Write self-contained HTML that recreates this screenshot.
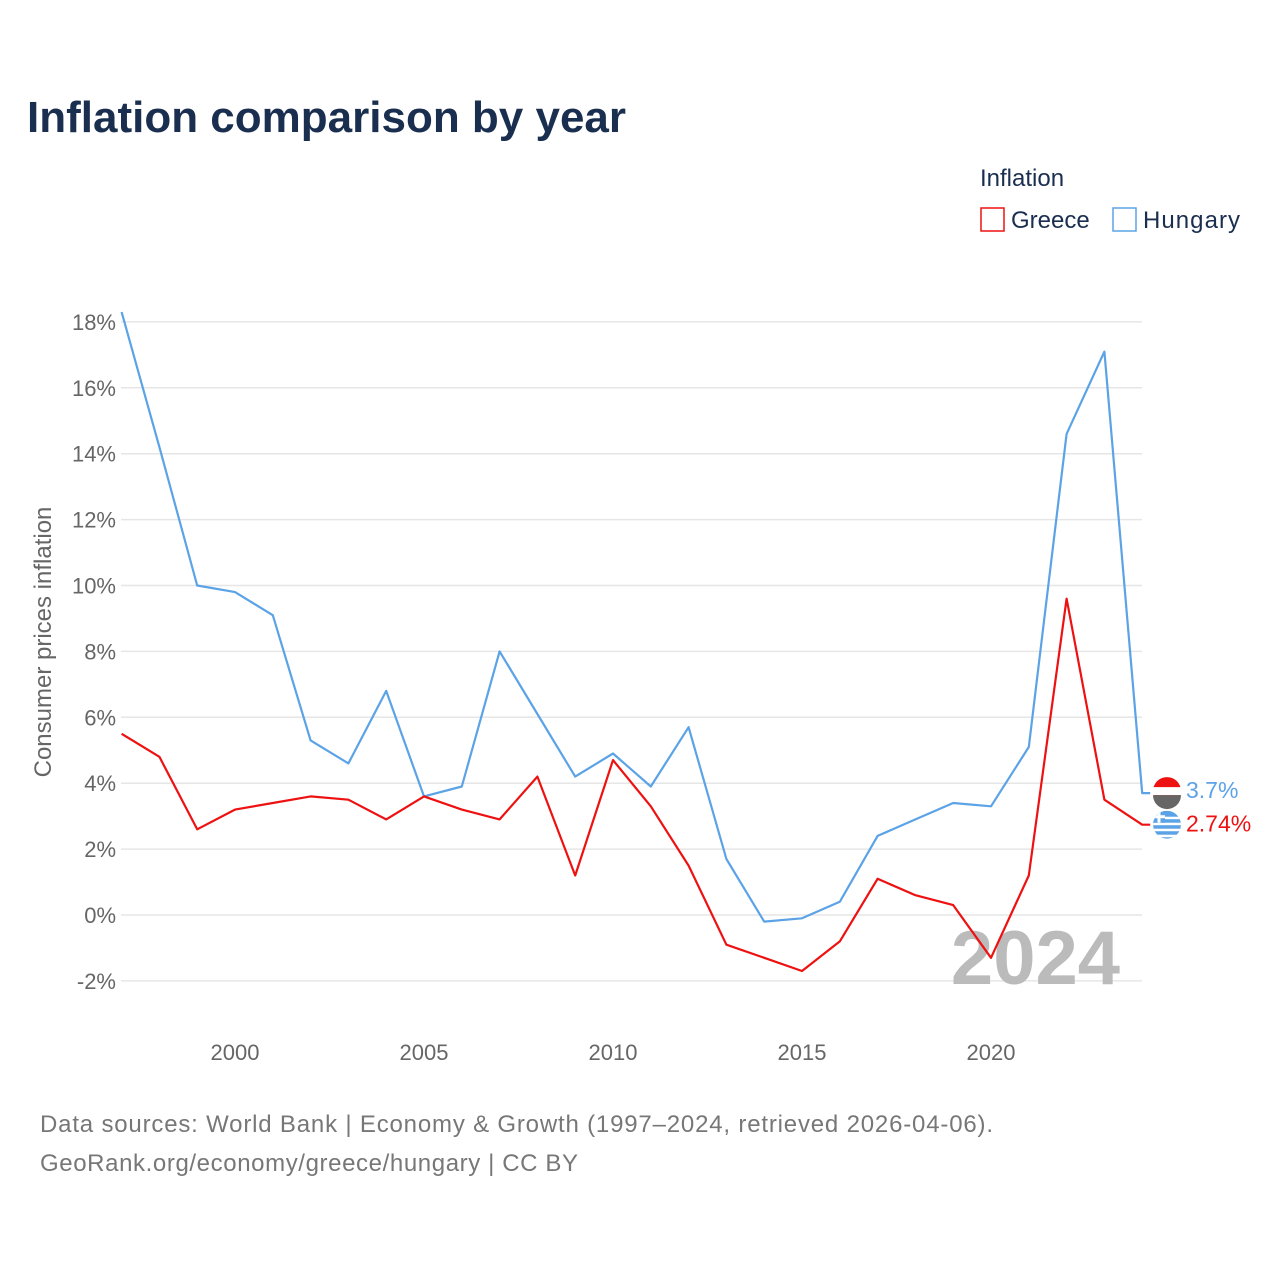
<!DOCTYPE html>
<html><head><meta charset="utf-8">
<style>
body{margin:0;background:#fff;font-family:"Liberation Sans",sans-serif;}
svg text{font-family:"Liberation Sans",sans-serif;}
</style></head>
<body>
<svg width="1280" height="1280" viewBox="0 0 1280 1280" xmlns="http://www.w3.org/2000/svg">
<defs><clipPath id="gclip"><circle id="gclipc" cx="1167" cy="825" r="14"/></clipPath></defs>
<text x="27" y="132" font-size="44" font-weight="bold" fill="#1a2e4f">Inflation comparison by year</text>
<text x="980" y="186" font-size="24" fill="#1a2e4f">Inflation</text>
<g><rect x="981" y="208" width="23" height="23" fill="none" stroke="#ee1111" stroke-width="1.5"/><text x="1011" y="228" font-size="24" fill="#1a2e4f">Greece</text></g>
<g><rect x="1113" y="208" width="23" height="23" fill="none" stroke="#5ba3e6" stroke-width="1.5"/><text x="1143" y="228" font-size="24" fill="#1a2e4f" textLength="97" lengthAdjust="spacing">Hungary</text></g>
<g id="grid"></g>
<g id="yticks"></g>
<g id="xticks"></g>
<text transform="translate(51,642) rotate(-90)" text-anchor="middle" font-size="24" fill="#666">Consumer prices inflation</text>
<text x="1120" y="984" text-anchor="end" font-size="76" font-weight="bold" fill="#bbb">2024</text>
<g id="series"></g>
<text x="40" y="1132" font-size="24" fill="#777" textLength="953" lengthAdjust="spacing">Data sources: World Bank | Economy &amp; Growth (1997–2024, retrieved 2026-04-06).</text>
<text x="40" y="1171" font-size="24" fill="#777" textLength="538" lengthAdjust="spacing">GeoRank.org/economy/greece/hungary | CC BY</text>
</svg>
<script>
const years=[1997,1998,1999,2000,2001,2002,2003,2004,2005,2006,2007,2008,2009,2010,2011,2012,2013,2014,2015,2016,2017,2018,2019,2020,2021,2022,2023,2024];
const hungary=[18.3,14.2,10.0,9.8,9.1,5.3,4.6,6.8,3.6,3.9,8.0,6.1,4.2,4.9,3.9,5.7,1.7,-0.2,-0.1,0.4,2.4,2.9,3.4,3.3,5.1,14.6,17.1,3.7];
const greece=[5.5,4.8,2.6,3.2,3.4,3.6,3.5,2.9,3.6,3.2,2.9,4.2,1.2,4.7,3.3,1.5,-0.9,-1.3,-1.7,-0.8,1.1,0.6,0.3,-1.3,1.2,9.6,3.5,2.74];
const yTicks=[-2,0,2,4,6,8,10,12,14,16,18];
const xTicks=[2000,2005,2010,2015,2020];
const NS="http://www.w3.org/2000/svg";
const x=v=>121.6+(v-1997)*37.8;
const y=v=>915-v*32.95;
function mk(t,a,p){const e=document.createElementNS(NS,t);for(const k in a)e.setAttribute(k,a[k]);p.appendChild(e);return e;}
const grid=document.getElementById('grid'),yt=document.getElementById('yticks'),xt=document.getElementById('xticks'),ser=document.getElementById('series');
yTicks.forEach(v=>{
 const l=mk('line',{x1:121,x2:1142,y1:y(v),y2:y(v),stroke:'#e6e6e6','stroke-width':1.5},grid);
 
 
 const t=mk('text',{x:116,y:y(v)+8,'text-anchor':'end','font-size':22,fill:'#666'},yt);
 t.textContent=v+'%';
 
 
});
xTicks.forEach(v=>{
 const t=mk('text',{x:x(v),y:1060,'text-anchor':'middle','font-size':22,fill:'#666'},xt);
 t.textContent=v;
 
 
});
function line(vals,color,name){
 const d=vals.map((v,i)=>(i?'L':'M')+x(years[i]).toFixed(1)+','+y(v).toFixed(1)).join(' ')+' L'+(x(years[years.length-1])+8)+','+y(vals[vals.length-1]).toFixed(1);
 const p=mk('path',{d:d,fill:'none',stroke:color,'stroke-width':2.2,'stroke-linejoin':'round'},ser);
 
 
}
line(hungary,'#5ba3e6','hungary-line');
line(greece,'#ee1111','greece-line');
const hv=hungary[hungary.length-1],gv=greece[greece.length-1];
const hy=y(hv)-2,gy=y(gv);
const hf=mk('g',{},ser);


mk('circle',{cx:1167,cy:hy,r:14,fill:'#ee1111'},hf);
mk('path',{d:`M1153,${hy-4} h28 v8 h-28 z`,fill:'#fff'},hf);
mk('path',{d:`M1153,${hy+4} h28 A14,14 0 0 1 1153,${hy+4} z`,fill:'#666'},hf);
document.getElementById('gclipc').setAttribute('cy',gy);
const gf=mk('g',{'clip-path':'url(#gclip)'},ser);


mk('circle',{cx:1167,cy:gy,r:14,fill:'#5ba3e6'},gf);
[-8,-2,4,10].forEach(o=>mk('rect',{x:1153,y:gy+o,width:28,height:2.5,fill:'#fff'},gf));
mk('rect',{x:1153,y:gy-14,width:12,height:12,fill:'#5ba3e6'},gf);
mk('rect',{x:1153,y:gy-9.5,width:12,height:3,fill:'#fff'},gf);
mk('rect',{x:1157.5,y:gy-14,width:3,height:12,fill:'#fff'},gf);
const ht=mk('text',{x:1186,y:hy+7,'font-size':23,fill:'#5ba3e6'},ser);
ht.textContent=hv+'%';


const gt=mk('text',{x:1186,y:gy+7,'font-size':23,fill:'#ee1111'},ser);
gt.textContent=gv+'%';


</script>
</body></html>
